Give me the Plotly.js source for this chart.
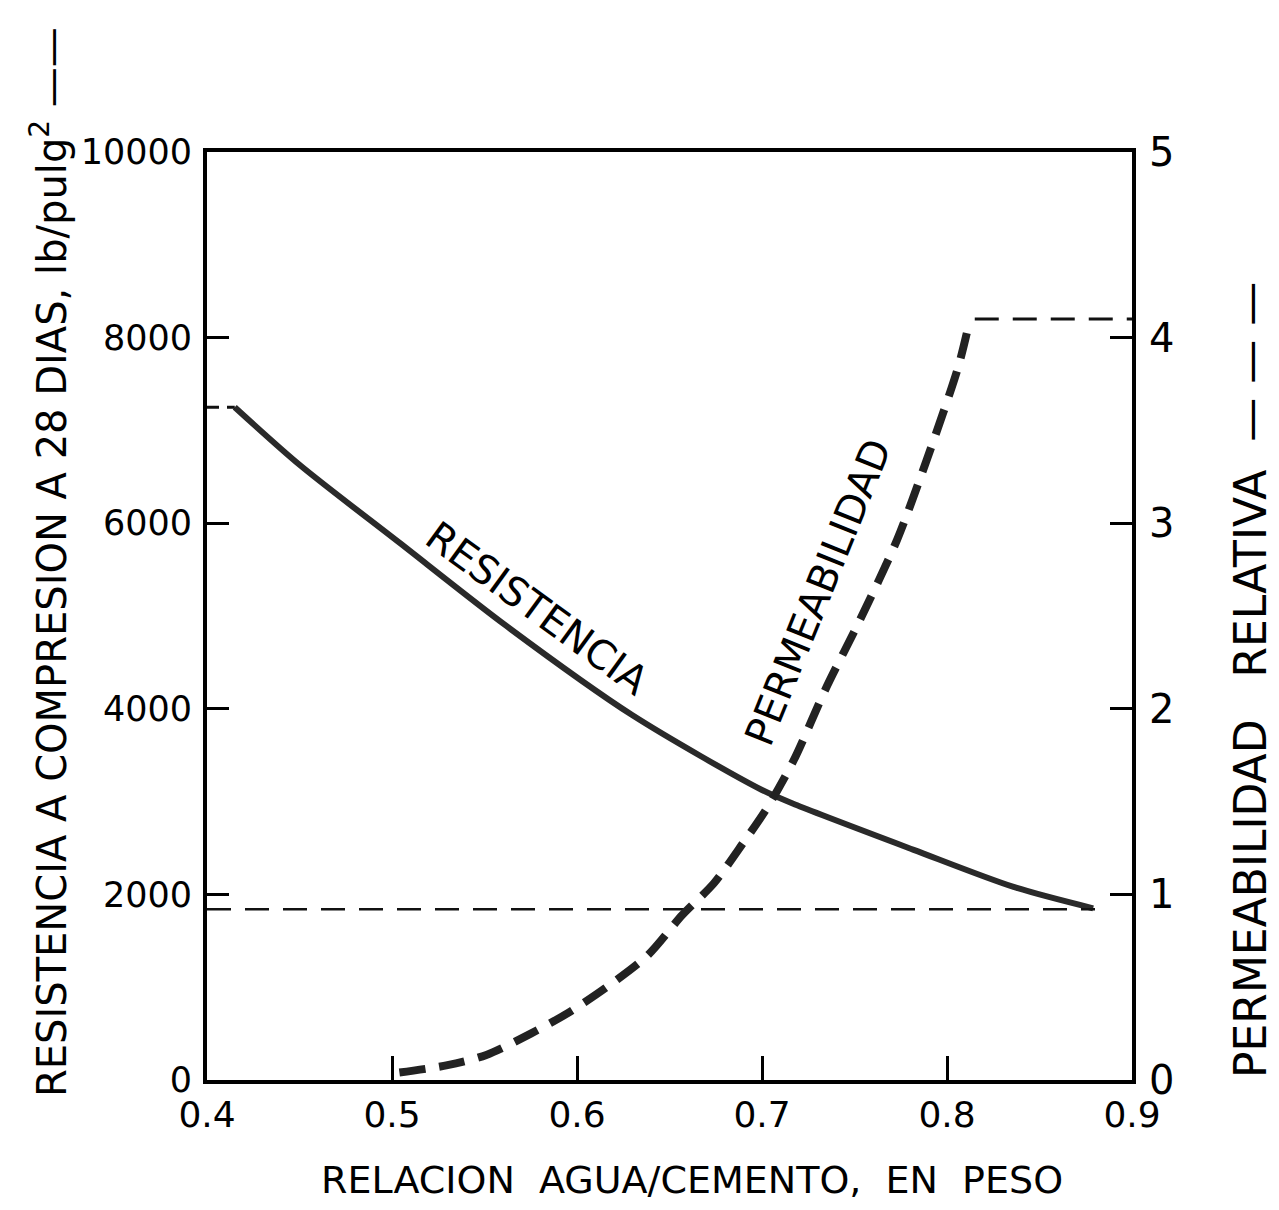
<!DOCTYPE html>
<html>
<head>
<meta charset="utf-8">
<script src="https://cdn.plot.ly/plotly-3.0.1.min.js"></script>
<style>html,body{margin:0;padding:0;background:#fff;}#chart{width:1279px;height:1210px;}</style>
</head>
<body>
<div id="chart"></div>
<script>
// Resistencia (lb/pulg2) vs relacion agua/cemento
const resX = [0.415, 0.450, 0.504, 0.562, 0.630, 0.700, 0.719, 0.782, 0.836, 0.879];
const resY = [7250, 6630, 5790, 4890, 3930, 3125, 2960, 2480, 2080, 1850];
// Permeabilidad relativa
const permX = [0.504, 0.530, 0.551, 0.575, 0.595, 0.616, 0.638, 0.657, 0.674, 0.690, 0.703, 0.717, 0.735, 0.753, 0.773, 0.789, 0.806, 0.812];
const permY = [0.04, 0.08, 0.135, 0.25, 0.36, 0.50, 0.67, 0.89, 1.06, 1.28, 1.47, 1.72, 2.12, 2.48, 2.91, 3.34, 3.84, 4.08];
// Permeability plateau
const plateauX = [0.815, 0.9];
const plateauY = [4.1, 4.1];
// Reference dashed lines
const startLeadX = [0.4, 0.415];
const startLeadY = [7250, 7250];
const refLineX = [0.4, 0.88];
const refLineY = [1840, 1840];
// Ticks
const xTicks = [0.4, 0.5, 0.6, 0.7, 0.8, 0.9];
const xTickText = ['0.4', '0.5', '0.6', '0.7', '0.8', '0.9'];
const yTicks = [0, 2000, 4000, 6000, 8000, 10000];
const yTickText = ['0', '2000', '4000', '6000', '8000', '10000'];
const y2Ticks = [0, 1, 2, 3, 4, 5];

const FONT = '"DejaVu Sans", sans-serif';

const traces = [
  {x: resX, y: resY, mode: 'lines', line: {color: '#2a2a2a', width: 6, shape: 'spline', smoothing: 0.8}, hoverinfo: 'skip', showlegend: false},
  {x: startLeadX, y: startLeadY, mode: 'lines', line: {color: '#111', width: 3, dash: '12px,8px'}, showlegend: false},
  {x: refLineX, y: refLineY, mode: 'lines', line: {color: '#111', width: 2.5, dash: '24px,14px'}, showlegend: false},
  {x: permX, y: permY, yaxis: 'y2', mode: 'lines', line: {color: '#222', width: 8, dash: '26px,14px', shape: 'spline', smoothing: 0.8}, showlegend: false},
  {x: plateauX, y: plateauY, yaxis: 'y2', mode: 'lines', line: {color: '#111', width: 3, dash: '24px,14px'}, showlegend: false}
];

const layout = {
  width: 1279, height: 1210,
  margin: {l: 207, r: 147, t: 152, b: 130},
  paper_bgcolor: '#fff', plot_bgcolor: '#fff',
  showlegend: false,
  font: {family: FONT, color: '#000', size: 36},
  xaxis: {
    range: [0.4, 0.9], tickvals: xTicks, ticktext: xTickText,
    ticks: 'inside', ticklen: 24, tickwidth: 3, tickcolor: '#000',
    showline: true, linewidth: 4, linecolor: '#000', mirror: true,
    showgrid: false, zeroline: false, ticklabelstandoff: 0,
    tickfont: {family: FONT, size: 36, color: '#000'}
  },
  yaxis: {
    range: [0, 10000], tickvals: yTicks, ticktext: yTickText,
    ticks: 'inside', ticklen: 22, tickwidth: 3, tickcolor: '#000',
    showline: true, linewidth: 4, linecolor: '#000', mirror: true,
    showgrid: false, zeroline: false, ticklabelstandoff: 4,
    tickfont: {family: FONT, size: 35, color: '#000'}
  },
  yaxis2: {
    range: [0, 5], tickvals: y2Ticks, overlaying: 'y', side: 'right',
    ticks: 'inside', ticklen: 22, tickwidth: 3, tickcolor: '#000',
    showline: false, showgrid: false, zeroline: false, ticklabelstandoff: 16,
    tickfont: {family: FONT, size: 40, color: '#000'}
  },
  annotations: [
    {text: 'RELACION  AGUA/CEMENTO,  EN  PESO', xref: 'paper', yref: 'paper', x: (692 - 207) / 925, y: (1080 - 1180) / 928,
     xanchor: 'center', yanchor: 'middle', showarrow: false, font: {family: FONT, size: 38}},
    {text: 'RESISTENCIA A COMPRESION A 28 DIAS, lb/pulg<sup>2</sup> ——', xref: 'paper', yref: 'paper',
     x: (49 - 207) / 925, y: (1080 - 562) / 928, xanchor: 'center', yanchor: 'middle',
     textangle: -90, showarrow: false, font: {family: FONT, size: 40}},
    {text: 'PERMEABILIDAD   RELATIVA  — — —', xref: 'paper', yref: 'paper',
     x: (1250 - 207) / 925, y: (1080 - 680) / 928, xanchor: 'center', yanchor: 'middle',
     textangle: -90, showarrow: false, font: {family: FONT, size: 44}},
    {text: 'RESISTENCIA', xref: 'paper', yref: 'paper', x: (537 - 207) / 925, y: (1080 - 608) / 928,
     xanchor: 'center', yanchor: 'middle', textangle: 36, showarrow: false, font: {family: FONT, size: 40}},
    {text: 'PERMEABILIDAD', xref: 'paper', yref: 'paper', x: (818 - 207) / 925, y: (1080 - 592) / 928,
     xanchor: 'center', yanchor: 'middle', textangle: -68, showarrow: false, font: {family: FONT, size: 40}}
  ]
};

Plotly.newPlot('chart', traces, layout, {displayModeBar: false, staticPlot: true});
</script>
</body>
</html>
